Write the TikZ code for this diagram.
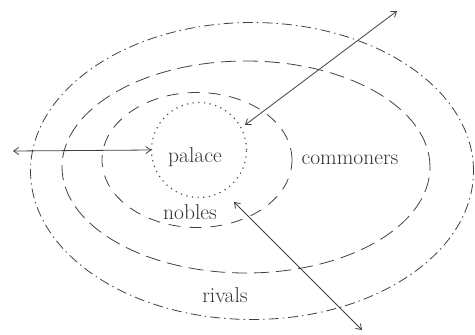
\documentclass[tikz,border=0pt]{standalone}
\usepackage{tikz}
\usetikzlibrary{arrows.meta, positioning, shapes.geometric, calc}

\begin{document}
\begin{tikzpicture}[
            x=1pt, y=-1pt,
            ring/.style={ellipse, draw=black!75, line width=0.8pt, inner sep=0pt, outer sep=0pt},
            label/.style={font=\fontsize{21.5}{25}\selectfont, text=black!80, inner sep=0pt},
            arrow/.style={{Straight Barb[length=5pt,width=7pt]}-{Straight Barb[length=5pt,width=7pt]}, draw=black!75, line width=0.8pt}
        ]
            \useasboundingbox (0,0) rectangle (475,335);

            % the rings, inside out
            \node[ring, circle, dash pattern=on 1.2pt off 4.5pt, line width=1.1pt, minimum size=95pt] (palacering) at (199,150) {};
            \node[ring, dash pattern=on 12pt off 9pt, minimum width=190pt, minimum height=135pt] (noblesring) at (197,160) {};
            \node[ring, dash pattern=on 15pt off 7pt, minimum width=368pt, minimum height=212pt] (commonersring) at (246,167) {};
            \node[ring, dash pattern=on 10pt off 4pt on 1.5pt off 4pt, minimum width=443pt, minimum height=297pt] (rivalsring) at (252,171) {};

            \node[label] (palace) at (195,157) {palace};
            \node[label] (nobles) at (190,212) {nobles};
            \node[label] (commoners) at (350,160) {commoners};
            \node[label] (rivals) at (225,295) {rivals};

            \coordinate (outwest) at (13,151);
            \coordinate (outnorth) at (397,11);
            \coordinate (innorth) at (245,125);
            \coordinate (outsouth) at (362,330);
            \coordinate (insouth) at (234,202);

            \draw[arrow] (outwest) -- (palacering.west);
            \draw[arrow] (outnorth) -- (innorth);
            \draw[arrow] (insouth) -- (outsouth);
        \end{tikzpicture}
\end{document}
